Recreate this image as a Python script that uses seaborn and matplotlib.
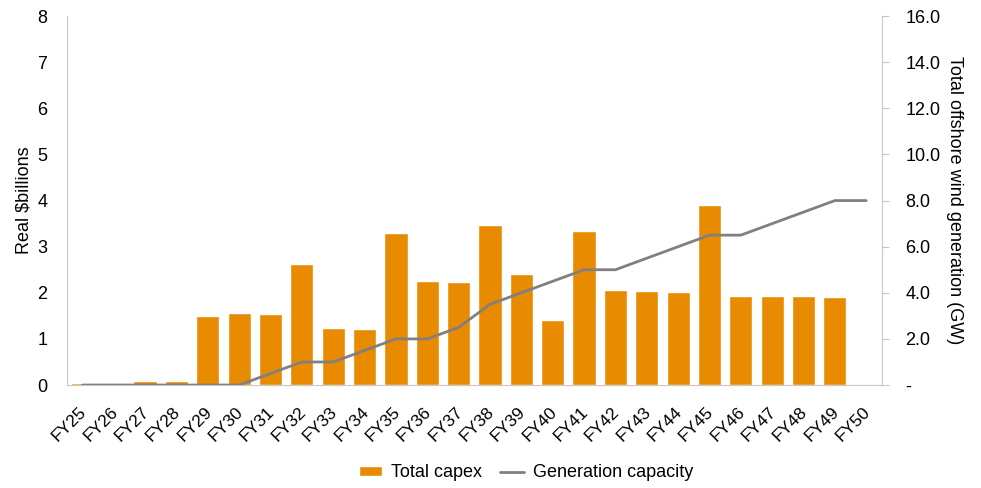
import matplotlib
matplotlib.use('Agg')
import matplotlib.pyplot as plt
import matplotlib.ticker as mticker
import matplotlib.transforms as mtransforms
import seaborn as sns
import pandas as pd

years = ['FY25', 'FY26', 'FY27', 'FY28', 'FY29', 'FY30', 'FY31', 'FY32', 'FY33', 'FY34',
         'FY35', 'FY36', 'FY37', 'FY38', 'FY39', 'FY40', 'FY41', 'FY42', 'FY43', 'FY44',
         'FY45', 'FY46', 'FY47', 'FY48', 'FY49', 'FY50']
total_capex = [0.04, 0.04, 0.08, 0.08, 1.50, 1.57, 1.55, 2.63, 1.24, 1.22,
               3.30, 2.25, 2.23, 3.48, 2.41, 1.41, 3.34, 2.05, 2.04, 2.02,
               3.90, 1.94, 1.93, 1.92, 1.91, 0.0]
gen_capacity = [0, 0, 0, 0, 0, 0, 0.5, 1.0, 1.0, 1.5,
                2.0, 2.0, 2.5, 3.5, 4.0, 4.5, 5.0, 5.0, 5.5, 6.0,
                6.5, 6.5, 7.0, 7.5, 8.0, 8.0]

df = pd.DataFrame({'Year': years, 'Capex': total_capex, 'GW': gen_capacity})

sns.set_style('white')
plt.rcParams['font.family'] = ['Liberation Sans', 'DejaVu Sans']
plt.rcParams['text.color'] = 'black'
plt.rcParams['axes.labelcolor'] = 'black'
plt.rcParams['xtick.color'] = 'black'
plt.rcParams['ytick.color'] = 'black'
fs = 13

fig, ax = plt.subplots(figsize=(9.81, 4.88), dpi=100)
fig.subplots_adjust(left=0.068, right=0.899, top=0.967, bottom=0.211)

sns.barplot(data=df, x='Year', y='Capex', color='#E88B00', saturation=1,
            width=0.74, ax=ax, label='Total capex', legend=False)
if ax.get_legend() is not None:
    ax.get_legend().remove()
ax.set_ylim(0, 8)
ax.set_xlim(-0.5, len(years) - 0.5)
ax.set_ylabel('Real $billions', fontsize=fs, labelpad=3)
ax.set_xlabel('')
ax.tick_params(axis='y', labelsize=fs, length=0, pad=14)
ax.tick_params(axis='x', labelsize=12.5, length=0, pad=14)
# shift rotated labels a little right so their top-right corner sits under the bar
shift = mtransforms.ScaledTranslation(5 / 72, 0, fig.dpi_scale_trans)
for lab in ax.get_xticklabels():
    lab.set_rotation(45)
    lab.set_ha('right')
    lab.set_va('top')
    lab.set_transform(lab.get_transform() + shift)
for s in ['top', 'right']:
    ax.spines[s].set_visible(False)
for s in ['left', 'bottom']:
    ax.spines[s].set_color('#C8C8C8')

ax2 = ax.twinx()
ax2.plot(range(len(years)), df['GW'], color='#808080', lw=2, label='Generation capacity')
ax2.set_ylim(0, 16)
ax2.set_yticks(range(0, 17, 2))
ax2.yaxis.set_major_formatter(mticker.FuncFormatter(lambda v, p: '-' if v == 0 else f'{v:.1f}'))
ax2.set_ylabel('Total offshore wind generation (GW)', fontsize=fs, rotation=-90, labelpad=16)
ax2.tick_params(axis='y', labelsize=fs, length=5, color='#C8C8C8', labelcolor='black', pad=12)
for s in ['top', 'left', 'bottom']:
    ax2.spines[s].set_visible(False)
ax2.spines['right'].set_color('#C8C8C8')

h1, l1 = ax.get_legend_handles_labels()
h2, l2 = ax2.get_legend_handles_labels()
fig.legend(h1[:1] + h2, ['Total capex'] + l2, loc='center', bbox_to_anchor=(0.536, 0.031), ncol=2,
           frameon=False, fontsize=fs, handlelength=1.3, handleheight=0.5, handletextpad=0.5,
           columnspacing=1.0, borderaxespad=0)

plt.savefig('out.png', dpi=100)
